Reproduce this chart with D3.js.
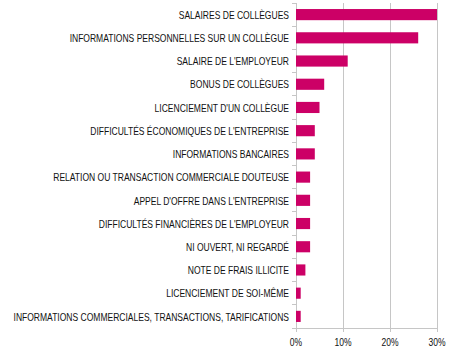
<!DOCTYPE html>
<html>
<head>
<meta charset="utf-8">
<script src="https://cdn.jsdelivr.net/npm/d3@7"></script>
<style>
  body { margin: 0; background: #fff; }
</style>
</head>
<body>
<svg id="chart" width="450" height="351"></svg>
<script>
// categories, top to bottom
var categories = [
    "SALAIRES DE COLLÈGUES",
    "INFORMATIONS PERSONNELLES SUR UN COLLÈGUE",
    "SALAIRE DE L'EMPLOYEUR",
    "BONUS DE COLLÈGUES",
    "LICENCIEMENT D'UN COLLÈGUE",
    "DIFFICULTÉS ÉCONOMIQUES DE L'ENTREPRISE",
    "INFORMATIONS BANCAIRES",
    "RELATION OU TRANSACTION COMMERCIALE DOUTEUSE",
    "APPEL D'OFFRE DANS L'ENTREPRISE",
    "DIFFICULTÉS FINANCIÈRES DE L'EMPLOYEUR",
    "NI OUVERT, NI REGARDÉ",
    "NOTE DE FRAIS ILLICITE",
    "LICENCIEMENT DE SOI-MÊME",
    "INFORMATIONS COMMERCIALES, TRANSACTIONS, TARIFICATIONS"
];
// percent values
var values = [30, 26, 11, 6, 5, 4, 4, 3, 3, 3, 3, 2, 1, 1];
var xTicks = [0, 10, 20, 30];

var svg = d3.select("#chart"),
    plotLeft = 296, plotRight = 437, plotTop = 3, plotBottom = 328;

// no narrow font installed, so squeeze a normal one horizontally
var font = "'Liberation Sans', Arial, sans-serif";
var squeeze = 0.775;

var xScale = d3.scaleLinear().domain([0, 30]).range([plotLeft, plotRight]);
var yScale = d3.scaleBand().domain(categories).range([plotTop, plotBottom]).paddingInner(0.52).paddingOuter(0.26);

// gridlines
svg.append("g")
    .selectAll("line")
    .data(xTicks)
    .enter()
    .append("line")
    .attr("x1", function (d) { return xScale(d); })
    .attr("x2", function (d) { return xScale(d); })
    .attr("y1", plotTop)
    .attr("y2", plotBottom + 4)
    .style("stroke", "#c6c6c6")
    .style("stroke-width", 1)
    .attr("shape-rendering", "crispEdges");

// bottom axis line
svg.append("line")
    .attr("x1", plotLeft).attr("x2", plotRight)
    .attr("y1", plotBottom).attr("y2", plotBottom)
    .style("stroke", "#c6c6c6")
    .attr("shape-rendering", "crispEdges");

// left tick marks at band boundaries
var bandStep = (plotBottom - plotTop) / categories.length;
svg.append("g")
    .selectAll("line")
    .data(d3.range(categories.length + 1))
    .enter()
    .append("line")
    .attr("x1", plotLeft - 4)
    .attr("x2", plotLeft)
    .attr("y1", function (i) { return plotTop + i * bandStep; })
    .attr("y2", function (i) { return plotTop + i * bandStep; })
    .style("stroke", "#c6c6c6")
    .attr("shape-rendering", "crispEdges");

// bars
svg.append("g")
    .selectAll("rect")
    .data(values)
    .enter()
    .append("rect")
    .attr("x", xScale(0))
    .attr("y", function (d, i) { return yScale(categories[i]); })
    .attr("width", function (d) { return xScale(d) - xScale(0); })
    .attr("height", yScale.bandwidth())
    .style("fill", "#cc0066");

// category labels
svg.append("g")
    .selectAll("text")
    .data(categories)
    .enter()
    .append("text")
    .attr("transform", function (d) {
        return "translate(" + (plotLeft - 7) + "," + (yScale(d) + yScale.bandwidth() / 2) + ") scale(" + squeeze + ",1)";
    })
    .attr("dy", "0.38em")
    .attr("text-anchor", "end")
    .style("font-family", font)
    .style("font-size", "11px")
    .style("fill", "#111")
    .text(function (d) { return d; });

// x tick labels
svg.append("g")
    .selectAll("text")
    .data(xTicks)
    .enter()
    .append("text")
    .attr("transform", function (d) {
        return "translate(" + xScale(d) + ",346) scale(" + squeeze + ",1)";
    })
    .attr("text-anchor", "middle")
    .style("font-family", font)
    .style("font-size", "11px")
    .style("fill", "#111")
    .text(function (d) { return d + "%"; });
</script>
</body>
</html>
